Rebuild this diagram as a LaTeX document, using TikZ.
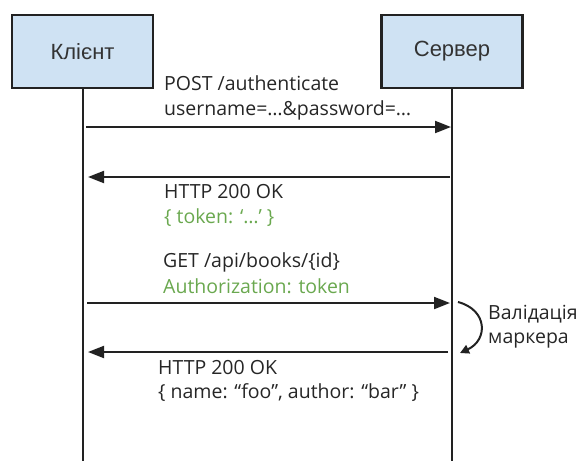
\documentclass[tikz,border=0pt]{standalone}
\usepackage{fontspec}
\setmainfont{Open Sans}
\newfontfamily\boxfont{Liberation Sans}
\usetikzlibrary{arrows.meta,positioning}
\definecolor{boxblue}{HTML}{CFE2F3}
\definecolor{tokengreen}{HTML}{6AA84F}
\definecolor{inkgray}{HTML}{222222}
\tikzstyle{party}=[rectangle,draw=inkgray,line width=2.2pt,fill=boxblue,
			  minimum width=141pt,minimum height=73pt,text=black!80,
			  font=\boxfont\fontsize{22}{26}\selectfont]
\tikzstyle{lifeline}=[draw=inkgray,line width=2pt]
\tikzstyle{msg}=[-{Triangle[length=16pt,width=12pt]},draw=inkgray,line width=2pt]
\tikzstyle{msgtext}=[anchor=base west,inner sep=0pt,text=black!85,
			  font=\fontsize{19.5}{24}\selectfont]
\tikzstyle{greentext}=[msgtext,text=tokengreen]
\tikzstyle{selfcall}=[-{Triangle[length=9pt,width=9pt]},draw=inkgray,line width=2pt]

\begin{document}
\begin{tikzpicture}[x=1pt,y=-1pt]
	\useasboundingbox (0,0) rectangle (581,461);
	\coordinate (bottom) at (0,461);

	\node[party] (client) at (82.5,51.5) {Клієнт};
	\node[party] (server) at (452,51.5) {Сервер};

	\draw[lifeline] (client.south) -- (client.south |- bottom);
	\draw[lifeline] (server.south) -- (server.south |- bottom);

	\coordinate (c1) at (86,127);  \coordinate (s1) at (451,127);
	\coordinate (s2) at (450,177); \coordinate (c2) at (88,177);
	\coordinate (c3) at (87,303);  \coordinate (s3) at (450,303);
	\coordinate (s4) at (448,352); \coordinate (c4) at (88,352);
	\coordinate (v1) at (458,302); \coordinate (v2) at (460,353);

	\node[msgtext] (post) at (164,90) {POST /authenticate};
	\node[msgtext] (postbody) at (164,115) {username=…\&password=…};
	\node[msgtext] (ok1) at (164,198) {HTTP 200 OK};
	\node[greentext] (tokenbody) at (164,223) {\{ token: ‘…’ \}};
	\node[msgtext] (get) at (163,267) {GET /api/books/\{id\}};
	\node[greentext] (authhdr) at (163,293) {Authorization: token};
	\node[msgtext] (ok2) at (158,374) {HTTP 200 OK};
	\node[msgtext] (bookbody) at (158,398) {\{ name: “foo”, author: “bar” \}};
	\node[msgtext] (valid) at (488,319) {Валідація};
	\node[msgtext] (marker) at (488,343) {маркера};

	\draw[msg] (c1) -- (s1);
	\draw[msg] (s2) -- (c2);
	\draw[msg] (c3) -- (s3);
	\draw[msg] (s4) -- (c4);
	\draw[selfcall] (v1) .. controls (488,310) and (488,340) .. (v2);
\end{tikzpicture}
\end{document}
